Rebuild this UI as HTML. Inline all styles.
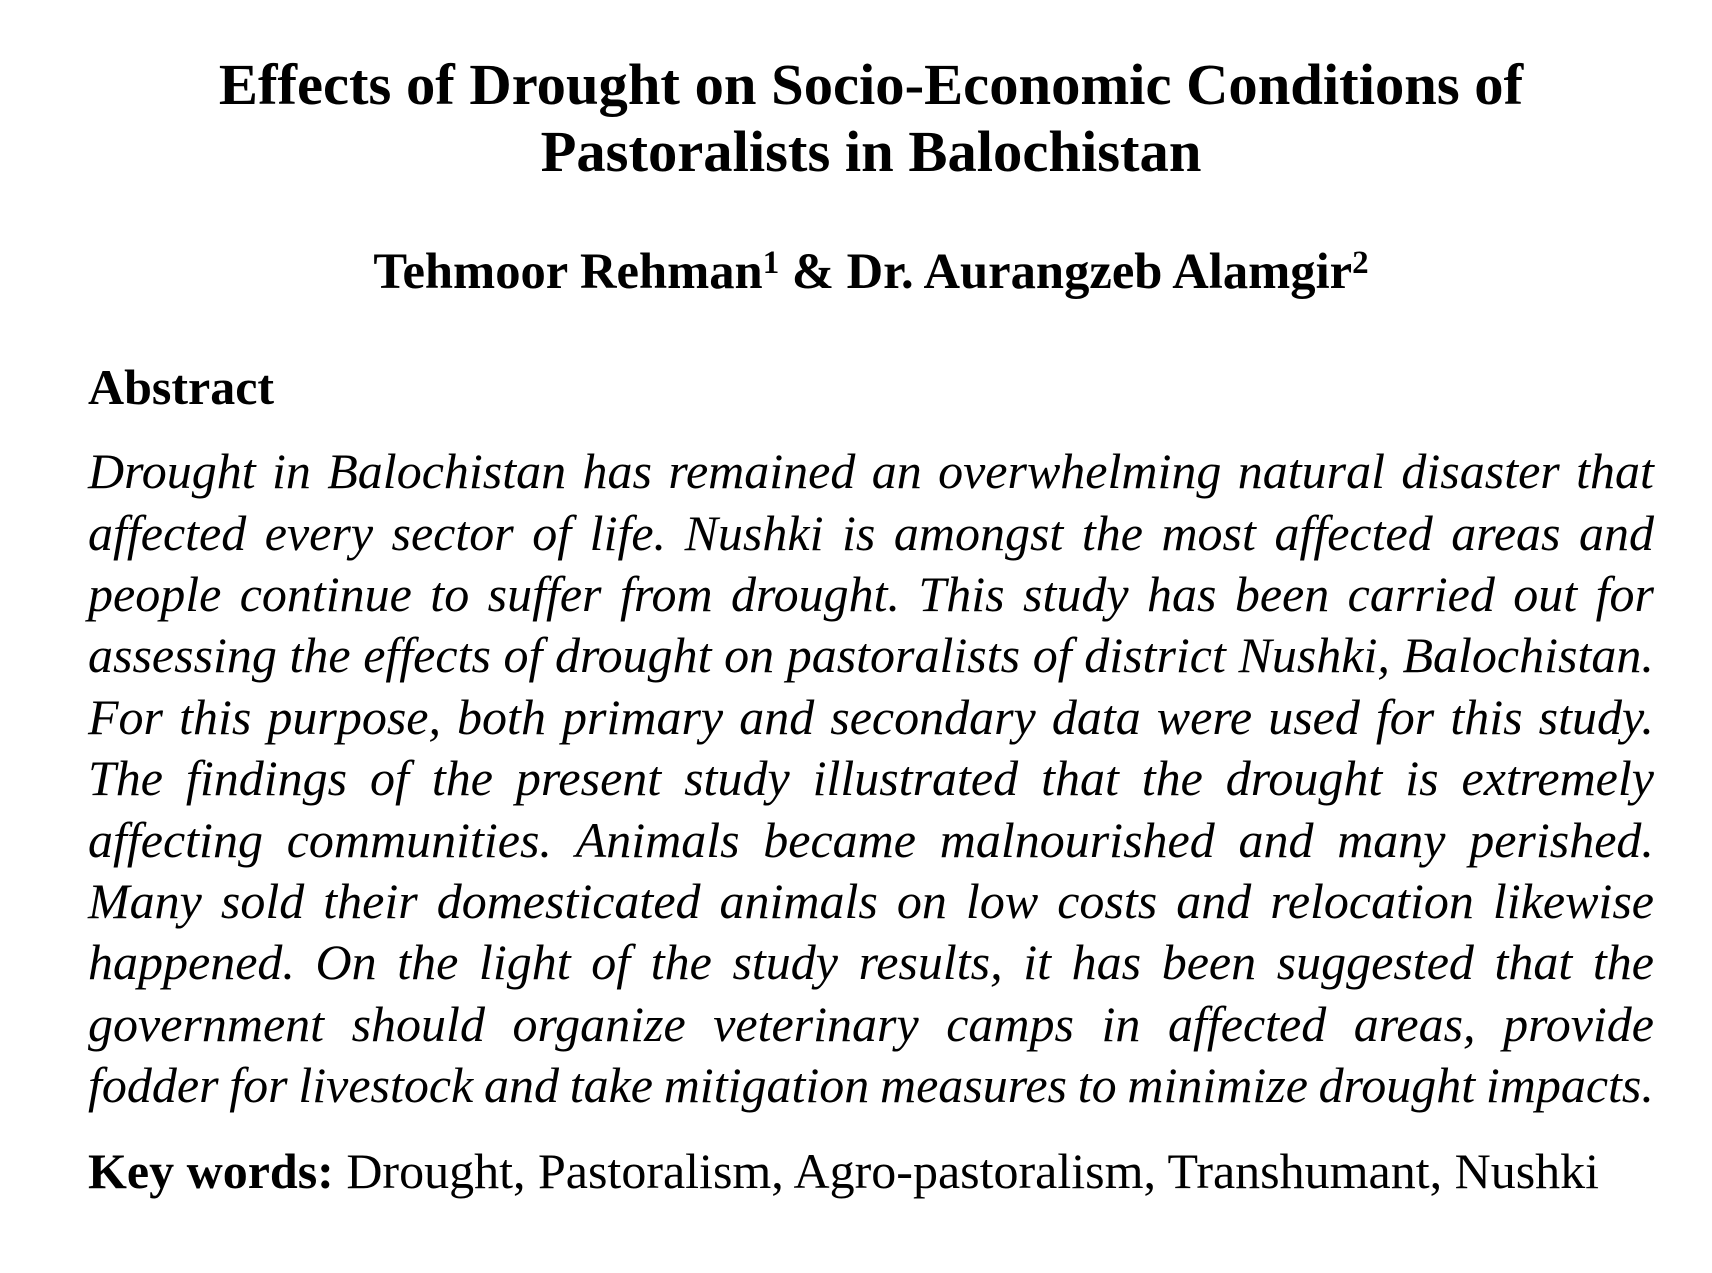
<!DOCTYPE html>
<html>
<head>
<meta charset="utf-8">
<style>
  html, body { margin:0; padding:0; background:#fff; }
  body { width:1712px; height:1273px; position:relative; overflow:hidden;
         font-family:"Liberation Serif", "Times New Roman", serif; color:#000;
         font-variant-ligatures:none; }
  .t { position:absolute; left:88px; width:1566px; text-align:center; font-weight:bold;
       font-size:58.6px; line-height:58.6px; white-space:nowrap; }
  .a { position:absolute; left:88px; width:1566px; text-align:center; font-weight:bold;
       font-size:50.6px; line-height:50px; white-space:nowrap; }
  .a sup { font-size:33px; line-height:0; vertical-align:15px; }
  .h { position:absolute; left:88px; font-weight:bold; font-size:50px; line-height:50px; white-space:nowrap; }
  .l { position:absolute; left:88px; width:1566px; display:flex; justify-content:space-between;
       align-items:baseline; font-style:italic; font-size:50px; line-height:50px; white-space:nowrap; }
  .k { position:absolute; left:88px; font-size:50px; line-height:50px; white-space:nowrap; }
</style>
</head>
<body>
<div class="t" style="top:56px;">Effects of Drought on Socio-Economic Conditions of</div>
<div class="t" style="top:123px;">Pastoralists in Balochistan</div>

<div class="a" style="top:246px;">Tehmoor Rehman<sup>1</sup> &amp; Dr. Aurangzeb Alamgir<sup>2</sup></div>

<div class="h" style="top:362px;">Abstract</div>

<div class="l" style="top:446px;"><span>Drought</span><span>in</span><span>Balochistan</span><span>has</span><span>remained</span><span>an</span><span>overwhelming</span><span>natural</span><span>disaster</span><span>that</span></div>
<div class="l" style="top:507.5px;"><span>affected</span><span>every</span><span>sector</span><span>of</span><span>life.</span><span>Nushki</span><span>is</span><span>amongst</span><span>the</span><span>most</span><span>affected</span><span>areas</span><span>and</span></div>
<div class="l" style="top:569px;"><span>people</span><span>continue</span><span>to</span><span>suffer</span><span>from</span><span>drought.</span><span>This</span><span>study</span><span>has</span><span>been</span><span>carried</span><span>out</span><span>for</span></div>
<div class="l" style="top:630.3px;"><span>assessing</span><span>the</span><span>effects</span><span>of</span><span>drought</span><span>on</span><span>pastoralists</span><span>of</span><span>district</span><span>Nushki,</span><span>Balochistan.</span></div>
<div class="l" style="top:691.7px;"><span>For</span><span>this</span><span>purpose,</span><span>both</span><span>primary</span><span>and</span><span>secondary</span><span>data</span><span>were</span><span>used</span><span>for</span><span>this</span><span>study.</span></div>
<div class="l" style="top:753.1px;"><span>The</span><span>findings</span><span>of</span><span>the</span><span>present</span><span>study</span><span>illustrated</span><span>that</span><span>the</span><span>drought</span><span>is</span><span>extremely</span></div>
<div class="l" style="top:814.5px;"><span>affecting</span><span>communities.</span><span>Animals</span><span>became</span><span>malnourished</span><span>and</span><span>many</span><span>perished.</span></div>
<div class="l" style="top:875.9px;"><span>Many</span><span>sold</span><span>their</span><span>domesticated</span><span>animals</span><span>on</span><span>low</span><span>costs</span><span>and</span><span>relocation</span><span>likewise</span></div>
<div class="l" style="top:937.3px;"><span>happened.</span><span>On</span><span>the</span><span>light</span><span>of</span><span>the</span><span>study</span><span>results,</span><span>it</span><span>has</span><span>been</span><span>suggested</span><span>that</span><span>the</span></div>
<div class="l" style="top:998.7px;"><span>government</span><span>should</span><span>organize</span><span>veterinary</span><span>camps</span><span>in</span><span>affected</span><span>areas,</span><span>provide</span></div>
<div class="l" style="top:1060px;"><span>fodder</span><span>for</span><span>livestock</span><span>and</span><span>take</span><span>mitigation</span><span>measures</span><span>to</span><span>minimize</span><span>drought</span><span>impacts.</span></div>

<div class="k" style="top:1146px;"><b>Key words:</b> Drought, Pastoralism, Agro-pastoralism, Transhumant, Nushki</div>
</body>
</html>
